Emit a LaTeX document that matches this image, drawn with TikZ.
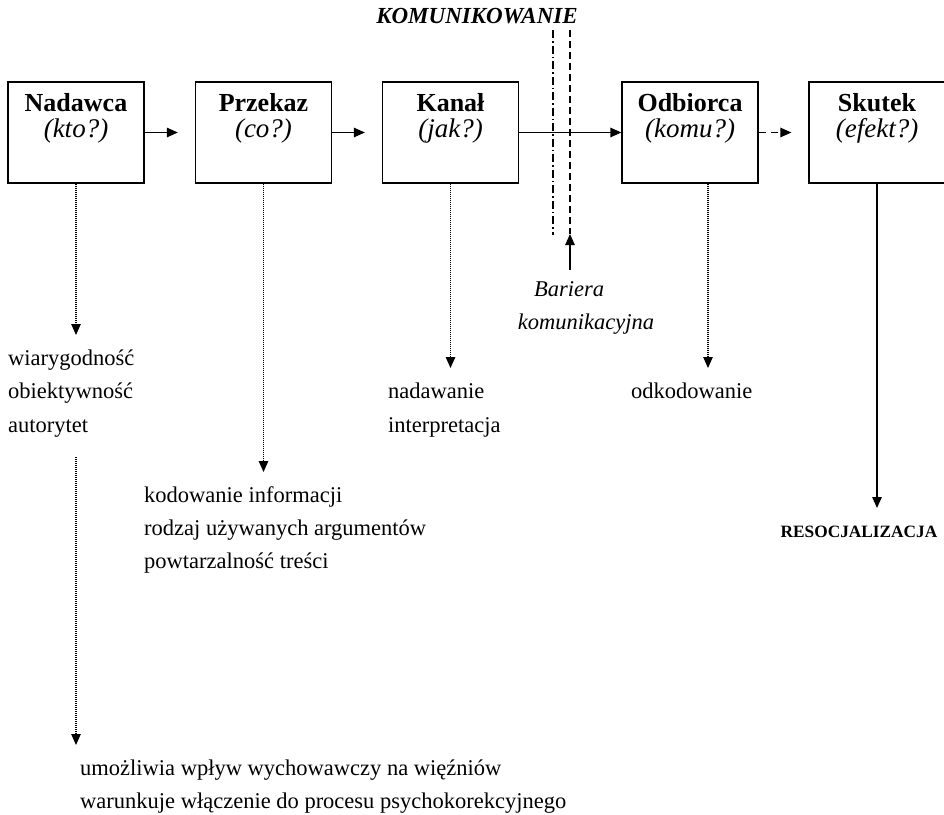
\documentclass[tikz,border=0pt]{standalone}
\usepackage{fontspec}
\setmainfont{Liberation Serif}
\usetikzlibrary{arrows.meta}
\begin{document}
\begin{tikzpicture}[x=1pt,y=-1pt,
  box/.style={draw, line width=1.3pt, minimum width=136pt, minimum height=101pt, inner sep=0pt},
  ttl/.style={font=\fontsize{26}{30}\selectfont\bfseries, anchor=base, inner sep=0pt},
  sub/.style={font=\fontsize{27}{30}\selectfont\itshape, anchor=base, inner sep=0pt},
  body/.style={font=\fontsize{22.5}{33}\selectfont, anchor=base west, inner sep=0pt},
  tip/.style={-{Triangle[length=11pt,width=9.5pt]}},
  link/.style={tip, line width=1.3pt},
  dashlink/.style={link, dash pattern=on 7pt off 5pt},
  dotlink/.style={tip, line width=1.2pt, dash pattern=on 1pt off 1pt},
  barrier/.style={line width=1.3pt},
]
\useasboundingbox (0,0) rectangle (944,814);

% heading
\node[font=\fontsize{23}{26}\selectfont\bfseries\itshape, anchor=base, inner sep=0pt] (kom) at (477,23) {KOMUNIKOWANIE};

% the five stages of communication
\node[box] (nad) at (76,132.5) {};
\node[box] (prz) at (263.5,132.5) {};
\node[box] (kan) at (450.5,132.5) {};
\node[box] (odb) at (690,132.5) {};
\node[box] (sku) at (877,132.5) {};

\node[ttl] (nadT) at (76,111) {Nadawca};
\node[sub] (nadS) at (76,137) {(kto?)};
\node[ttl] (przT) at (263.5,111) {Przekaz};
\node[sub] (przS) at (263.5,137) {(co?)};
\node[ttl] (kanT) at (450.5,111) {Kanał};
\node[sub] (kanS) at (450.5,137) {(jak?)};
\node[ttl] (odbT) at (690,111) {Odbiorca};
\node[sub] (odbS) at (690,137) {(komu?)};
\node[ttl] (skuT) at (877,111) {Skutek};
\node[sub] (skuS) at (877,137) {(efekt?)};

% flow between the stages
\draw[link] (nad.east) -- ([xshift=-17pt]prz.west);
\draw[link] (prz.east) -- ([xshift=-17pt]kan.west);
\draw[link] (kan.east) -- (odb.west);
\draw[dashlink] (odb.east) -- ([xshift=-17pt]sku.west);

% communication barrier
\coordinate (b1top) at (553,30);
\coordinate (b1bot) at (553,235);
\coordinate (b2top) at (570,30);
\coordinate (b2bot) at (570,234);
\coordinate (barS) at (570,270);
\draw[barrier, dash pattern=on 8pt off 3pt on 1.5pt off 3pt] (b1top) -- (b1bot);
\draw[barrier, dash pattern=on 7pt off 4pt] (b2top) -- (b2bot);
\draw[link] (barS) -- (b2bot);
\node[font=\fontsize{22.5}{26}\selectfont\itshape, anchor=base, inner sep=0pt] (bar1) at (569,296) {Bariera};
\node[font=\fontsize{22.5}{26}\selectfont\itshape, anchor=base, inner sep=0pt] (bar2) at (586,329) {komunikacyjna};

% sender
\coordinate (nadTip) at (76,335);
\draw[dotlink] (nad.south) -- (nadTip);
\node[body] (n1) at (8,365) {wiarygodność};
\node[body] (n2) at (8,398) {obiektywność};
\node[body] (n3) at (8,432) {autorytet};
\coordinate (nadS2) at (76,457);
\coordinate (nadTip2) at (76,745);
\draw[dotlink] (nadS2) -- (nadTip2);
\node[body] (e1) at (80,775) {umożliwia wpływ wychowawczy na więźniów};
\node[body] (e2) at (80,808) {warunkuje włączenie do procesu psychokorekcyjnego};

% message
\coordinate (przTip) at (263.5,472);
\draw[dotlink] (prz.south) -- (przTip);
\node[body] (p1) at (144,502) {kodowanie informacji};
\node[body] (p2) at (144,535) {rodzaj używanych argumentów};
\node[body] (p3) at (144,568) {powtarzalność treści};

% channel
\coordinate (kanTip) at (450.5,368);
\draw[dotlink] (kan.south) -- (kanTip);
\node[body] (k1) at (388,398) {nadawanie};
\node[body] (k2) at (388,432) {interpretacja};

% receiver
\coordinate (odbTip) at (708,368);
\draw[dotlink] (odb.south -| odbTip) -- (odbTip);
\node[body] (o1) at (631,398) {odkodowanie};

% effect
\coordinate (skuTip) at (877,508);
\draw[link] (sku.south) -- (skuTip);
\node[font=\fontsize{17.3}{20}\selectfont\bfseries, anchor=base, inner sep=0pt] (res) at (859,537) {RESOCJALIZACJA};
\end{tikzpicture}
\end{document}
